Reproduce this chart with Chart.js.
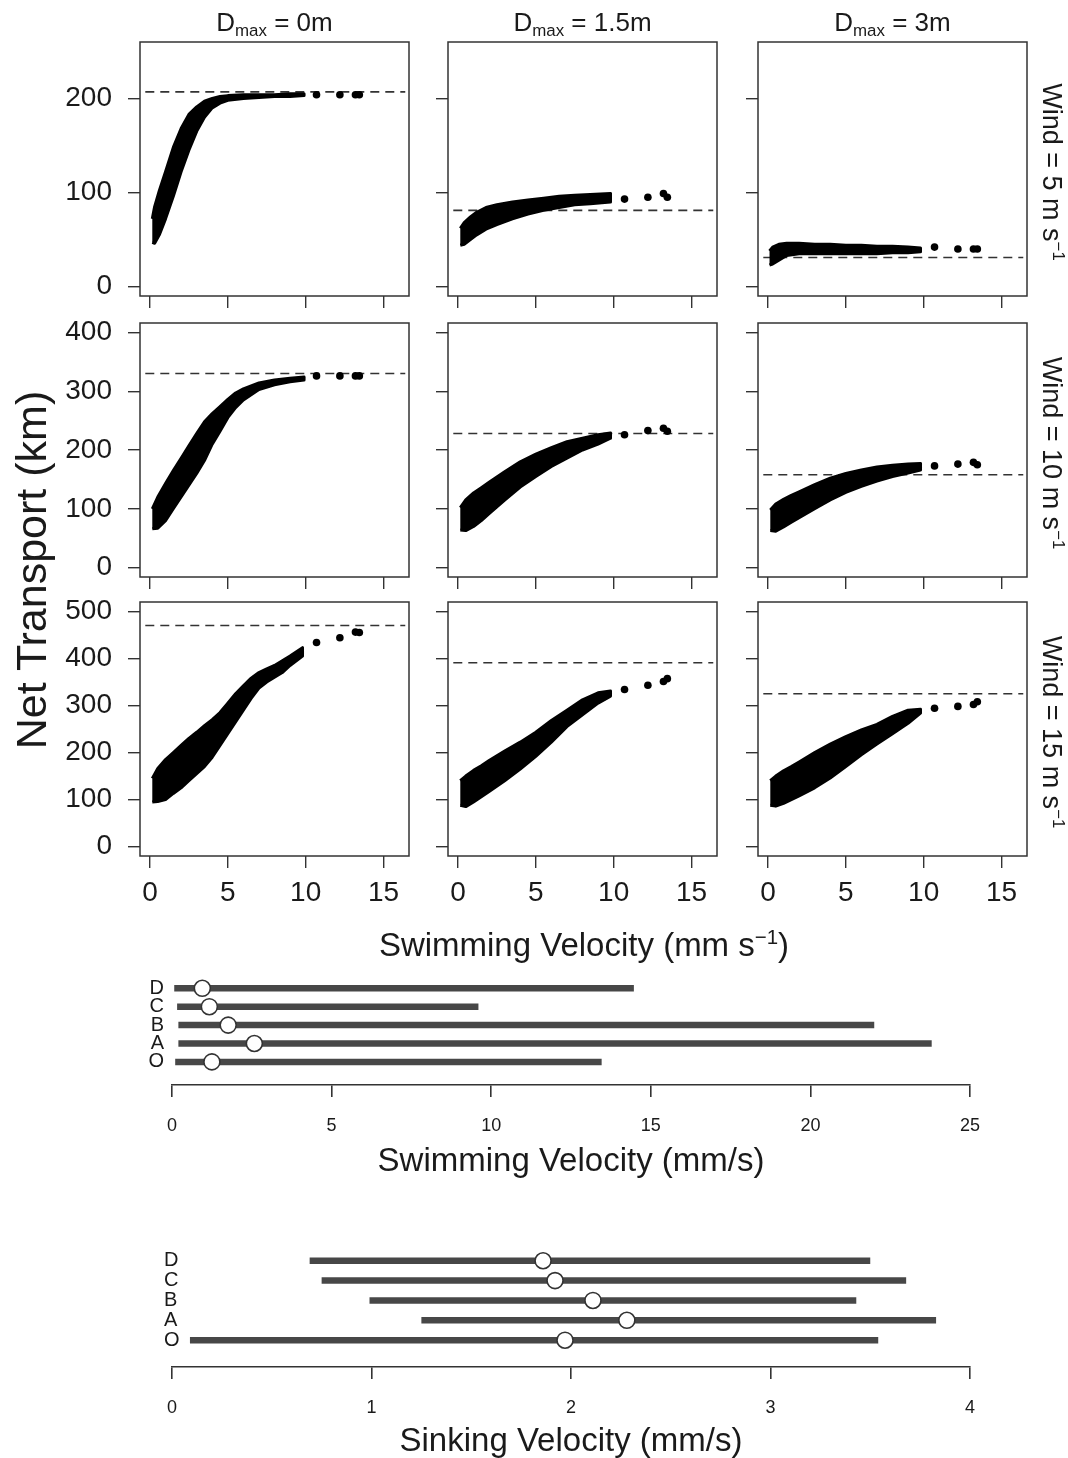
<!DOCTYPE html>
<html>
<head>
<meta charset="utf-8">
<script src="https://cdn.jsdelivr.net/npm/chart.js@4.4.0/dist/chart.umd.min.js"></script>
<style>
  body { margin: 0; background: #fff; width: 1068px; height: 1458px; position: relative; overflow: hidden;
         font-family: "Liberation Sans", Arial, sans-serif; color: #1a1a1a; }
  canvas { position: absolute; }
  .lbl { position: absolute; white-space: nowrap; text-align: center; }
  .lbl sub { font-size: 0.65em; vertical-align: -0.3em; }
  .lbl sup { font-size: 0.62em; vertical-align: 0.6em; }
</style>
</head>
<body>
<div id="wrap"></div>
<script>
// ---- data ----
const velTicks = [0, 5, 10, 15];
const rowTicks = [[0, 100, 200], [0, 100, 200, 300, 400], [0, 100, 200, 300, 400, 500]];
const rowLims = [[0, 250], [0, 400], [0, 500]];
const dmaxLabels = ["0m", "1.5m", "3m"];
const windLabels = ["5", "10", "15"];
const threshold = [[207, 81, 31], [330, 228, 158], [470, 391, 325]];

// point clouds: lower and upper edge of the band of simulations
const w5d0Vel = [0.15, 0.3, 0.6, 1.0, 1.5, 2.0, 2.5, 3.0, 3.5, 4.0, 4.5, 5, 6, 7, 8, 9, 9.9];
const w5d0Hi = [72, 85, 102, 122, 148, 168, 183, 191, 197, 200, 202, 203, 204, 204, 204, 205, 205];
const w5d0Lo = [47, 46, 55, 72, 96, 122, 145, 165, 180, 190, 195, 198, 200, 201, 202, 202, 203];

const w5d15Vel = [0.15, 0.4, 0.8, 1.2, 1.8, 2.5, 3.5, 4.5, 5.5, 6.5, 7.5, 8.5, 9.8];
const w5d15Hi = [62, 68, 74, 79, 84, 87, 90, 92, 94, 96, 97, 98, 99];
const w5d15Lo = [44, 45, 50, 55, 61, 66, 72, 77, 81, 84, 87, 88, 90];

const w5d3Vel = [0.1, 0.3, 0.7, 1.2, 2, 3, 4, 5, 6, 7, 8, 9, 9.8];
const w5d3Hi = [38, 42, 45, 46, 46, 45, 45, 44, 44, 43, 43, 42, 41];
const w5d3Lo = [23, 24, 28, 33, 35, 35, 35, 35, 35, 35, 36, 36, 37];

const w10d0Vel = [0.15, 0.5, 1.0, 1.5, 2.0, 2.5, 3.0, 3.5, 4.0, 4.5, 5.0, 5.5, 6.0, 7.0, 8.0, 9.0, 9.9];
const w10d0Hi = [100, 120, 143, 165, 186, 207, 228, 248, 262, 274, 286, 297, 304, 314, 319, 322, 324];
const w10d0Lo = [66, 67, 80, 100, 120, 140, 160, 182, 210, 232, 255, 272, 285, 303, 311, 316, 319];

const w10d15Vel = [0.15, 0.5, 1.0, 1.5, 2.0, 3.0, 4.0, 5.0, 6.0, 7.0, 8.0, 9.0, 9.8];
const w10d15Hi = [102, 115, 127, 136, 145, 163, 180, 193, 204, 214, 220, 226, 229];
const w10d15Lo = [64, 63, 70, 80, 92, 115, 137, 155, 172, 186, 200, 210, 220];

const w10d3Vel = [0.15, 0.5, 1.0, 1.5, 2.0, 3.0, 4.0, 5.0, 6.0, 7.0, 8.0, 9.0, 9.8];
const w10d3Hi = [98, 108, 116, 123, 129, 141, 152, 160, 166, 171, 174, 176, 177];
const w10d3Lo = [63, 62, 69, 77, 85, 100, 115, 128, 138, 147, 155, 161, 166];

const w15d0Vel = [0.15, 0.5, 1.0, 1.5, 2.0, 2.5, 3.0, 3.5, 4.0, 4.5, 5.0, 5.5, 6.0, 6.5, 7.0, 7.5, 8.0, 8.5, 9.0, 9.8];
const w15d0Hi = [145, 166, 185, 200, 215, 230, 243, 257, 270, 285, 305, 325, 342, 358, 370, 378, 385, 395, 405, 423];
const w15d0Lo = [95, 96, 100, 113, 125, 140, 155, 170, 190, 215, 240, 265, 290, 315, 337, 350, 360, 370, 385, 405];

const w15d15Vel = [0.15, 0.5, 1.0, 1.5, 2.0, 3.0, 4.0, 5.0, 6.0, 7.0, 8.0, 9.0, 9.8];
const w15d15Hi = [140, 150, 162, 172, 183, 203, 222, 243, 268, 290, 312, 327, 331];
const w15d15Lo = [88, 85, 95, 106, 117, 140, 165, 192, 222, 255, 280, 305, 320];

const w15d3Vel = [0.15, 0.5, 1.0, 1.5, 2.0, 3.0, 4.0, 5.0, 6.0, 7.0, 8.0, 9.0, 9.8];
const w15d3Hi = [140, 150, 161, 170, 180, 200, 218, 234, 248, 260, 277, 290, 292];
const w15d3Lo = [88, 86, 92, 100, 108, 125, 146, 170, 195, 218, 240, 262, 284];

// the few fast swimmers beyond the band
const outVel = [10.7, 12.2, 13.2, 13.45];
const w5d0Out = [204, 204, 204, 204];
const w5d15Out = [93, 95, 99, 95];
const w5d3Out = [42, 40, 40, 40];
const w10d0Out = [326, 326, 326, 326];
const w10d15Out = [226, 233, 237, 232];
const w10d3Out = [173, 176, 179, 175];
const w15d0Out = [434, 444, 456, 455];
const w15d15Out = [334, 343, 351, 357];
const w15d3Out = [294, 298, 302, 308];

// range plots (groups from bottom to top)
const groups = ["O", "A", "B", "C", "D"];
const swimLo = [0.1, 0.2, 0.2, 0.16, 0.07];
const swimHi = [13.46, 23.8, 22.0, 9.6, 14.47];
const swimMed = [1.25, 2.58, 1.76, 1.17, 0.95];
const swimTicks = [0, 5, 10, 15, 20, 25];
const sinkLo = [0.09, 1.25, 0.99, 0.75, 0.69];
const sinkHi = [3.54, 3.83, 3.43, 3.68, 3.50];
const sinkMed = [1.97, 2.28, 2.11, 1.92, 1.86];
const sinkTicks = [0, 1, 2, 3, 4];

const panels = [
  [[w5d0Vel, w5d0Hi, w5d0Lo, w5d0Out], [w5d15Vel, w5d15Hi, w5d15Lo, w5d15Out], [w5d3Vel, w5d3Hi, w5d3Lo, w5d3Out]],
  [[w10d0Vel, w10d0Hi, w10d0Lo, w10d0Out], [w10d15Vel, w10d15Hi, w10d15Lo, w10d15Out], [w10d3Vel, w10d3Hi, w10d3Lo, w10d3Out]],
  [[w15d0Vel, w15d0Hi, w15d0Lo, w15d0Out], [w15d15Vel, w15d15Hi, w15d15Lo, w15d15Out], [w15d3Vel, w15d3Hi, w15d3Lo, w15d3Out]]
];

// ---- layout ----
const FONT = '"Liberation Sans", Arial, sans-serif';
const INK = '#333';
const boxLeft = [140, 448, 758], boxTop = [42, 323, 602];
const boxW = 269, boxH = 254;
const wrap = document.getElementById('wrap');

function rLim(lim) { // R style 4% extension
  const d = (lim[1] - lim[0]) * 0.04;
  return [lim[0] - d, lim[1] + d];
}

const boxPlugin = {
  id: 'box',
  afterDraw(chart) {
    const { ctx, chartArea: a } = chart;
    ctx.save();
    ctx.strokeStyle = INK;
    ctx.lineWidth = 1.5;
    ctx.strokeRect(a.left, a.top, a.right - a.left, a.bottom - a.top);
    ctx.restore();
  }
};

function makeCanvas(left, top, w, h) {
  const c = document.createElement('canvas');
  c.width = w; c.height = h;
  c.style.left = left + 'px'; c.style.top = top + 'px';
  c.style.width = w + 'px'; c.style.height = h + 'px';
  wrap.appendChild(c);
  return c;
}

function addLabel(html, cx, cy, size, rot) {
  const d = document.createElement('div');
  d.className = 'lbl';
  const lh = Math.round(size * 1.2);
  d.style.fontSize = size + 'px';
  d.style.lineHeight = lh + 'px';
  d.style.width = '600px';
  d.style.left = (cx - 300) + 'px';
  d.style.top = (cy - lh / 2) + 'px';
  if (rot) d.style.transform = 'rotate(' + rot + 'deg)';
  d.innerHTML = html;
  document.body.appendChild(d);
}

const xLim = rLim([0, 16]);

for (let r = 0; r < 3; r++) {
  for (let c = 0; c < 3; c++) {
    const [vel, hi, lo, out] = panels[r][c];
    const yw = c === 0 ? 130 : 16;
    const xh = r === 2 ? 60 : 36;
    const pt = 36, pr = 4;
    const cv = makeCanvas(boxLeft[c] - yw, boxTop[r] - pt, yw + boxW + pr, pt + boxH + xh);
    const yLim = rLim(rowLims[r]);
    const cloud = vel.map((x, i) => ({ x, y: hi[i] }))
      .concat(vel.map((x, i) => ({ x, y: lo[i] })).reverse());
    new Chart(cv, {
      type: 'scatter',
      data: {
        datasets: [
          { data: cloud, showLine: true, fill: 'shape', backgroundColor: '#000', borderColor: '#000',
            borderWidth: 3, borderJoinStyle: 'round', pointRadius: 0 },
          { data: outVel.map((x, i) => ({ x, y: out[i] })), pointRadius: 3.8, backgroundColor: '#000', borderWidth: 0 },
          { data: [{ x: -0.3, y: threshold[r][c] }, { x: 16.4, y: threshold[r][c] }], showLine: true,
            borderColor: INK, borderWidth: 1.6, borderDash: [9, 6], pointRadius: 0 }
        ]
      },
      options: {
        responsive: false, animation: false, devicePixelRatio: 1,
        layout: { padding: { top: pt, right: pr, left: 0, bottom: 0 } },
        plugins: { legend: { display: false }, tooltip: { enabled: false } },
        scales: {
          x: {
            type: 'linear', min: xLim[0], max: xLim[1],
            afterBuildTicks: s => { s.ticks = velTicks.map(v => ({ value: v })); },
            afterFit: s => { s.height = xh; },
            border: { display: false },
            grid: { drawOnChartArea: false, drawTicks: true, tickLength: 12, color: INK, lineWidth: 1.4 },
            ticks: { display: r === 2, color: '#1a1a1a', font: { family: FONT, size: 28 }, padding: 8, maxRotation: 0 }
          },
          y: {
            type: 'linear', min: yLim[0], max: yLim[1],
            afterBuildTicks: s => { s.ticks = rowTicks[r].map(v => ({ value: v })); },
            afterFit: s => { s.width = yw; },
            border: { display: false },
            grid: { drawOnChartArea: false, drawTicks: true, tickLength: 12, color: INK, lineWidth: 1.4 },
            ticks: { display: c === 0, color: '#1a1a1a', font: { family: FONT, size: 28 }, padding: 16 }
          }
        }
      },
      plugins: [boxPlugin]
    });
  }
}

// ---- titles of the grid ----
for (let c = 0; c < 3; c++) {
  addLabel('D<sub>max</sub> = ' + dmaxLabels[c], boxLeft[c] + boxW / 2, 22, 26);
}
for (let r = 0; r < 3; r++) {
  addLabel('Wind = ' + windLabels[r] + ' m s<sup>\u22121</sup>', 1055, boxTop[r] + boxH / 2, 27, 90);
}
addLabel('Net Transport (km)', 31, 570, 43, -90);
addLabel('Swimming Velocity (mm s<sup>\u22121</sup>)', 584, 937, 33);

// ---- range plots ----
function rangePlot(top, lo, hi, med, ticks, xMax, yMin, labelPad, mirror) {
  const left = 112, yw = 60, areaW = 798, areaH = 127, xh = 70;
  const cv = makeCanvas(left, top, yw + areaW + 40, areaH + xh);
  const sets = [
    { data: med.map((x, i) => ({ x, y: i + 1 })), pointRadius: 8, backgroundColor: '#fff',
      borderColor: INK, borderWidth: 1.6 }
  ];
  groups.forEach((g, i) => {
    sets.push({ data: [{ x: lo[i], y: i + 1 }, { x: hi[i], y: i + 1 }], showLine: true,
      borderColor: '#474747', borderWidth: 6.5, borderCapStyle: 'butt', pointRadius: 0 });
  });
  new Chart(cv, {
    type: 'scatter',
    data: { datasets: sets },
    options: {
      responsive: false, animation: false, devicePixelRatio: 1,
      layout: { padding: { top: 0, right: 40, left: 0, bottom: 0 } },
      plugins: { legend: { display: false }, tooltip: { enabled: false } },
      scales: {
        x: {
          type: 'linear', min: 0, max: xMax,
          afterBuildTicks: s => { s.ticks = ticks.map(v => ({ value: v })); },
          afterFit: s => { s.height = xh; },
          border: { display: true, color: INK, width: 1.6 },
          grid: { drawOnChartArea: false, drawTicks: true, tickLength: 12, color: INK, lineWidth: 1.6 },
          ticks: { color: '#1a1a1a', font: { family: FONT, size: 18 }, padding: 18, maxRotation: 0 }
        },
        y: {
          type: 'linear', min: yMin, max: 5.56,
          afterBuildTicks: s => { s.ticks = [1, 2, 3, 4, 5].map(v => ({ value: v })); },
          afterFit: s => { s.width = yw; },
          border: { display: false },
          grid: { display: false, drawTicks: false },
          ticks: { color: '#1a1a1a', font: { family: '"Liberation Sans Narrow", ' + FONT, size: 20 },
            padding: labelPad, mirror: mirror, autoSkip: false, callback: v => groups[v - 1] }
        }
      }
    }
  });
}

rangePlot(958, swimLo, swimHi, swimMed, swimTicks, 25, -0.256, 8, false);
addLabel('Swimming Velocity (mm/s)', 571, 1160, 33);
rangePlot(1240, sinkLo, sinkHi, sinkMed, sinkTicks, 4, -0.35, -8, true);
addLabel('Sinking Velocity (mm/s)', 571, 1440, 33);
</script>
</body>
</html>
